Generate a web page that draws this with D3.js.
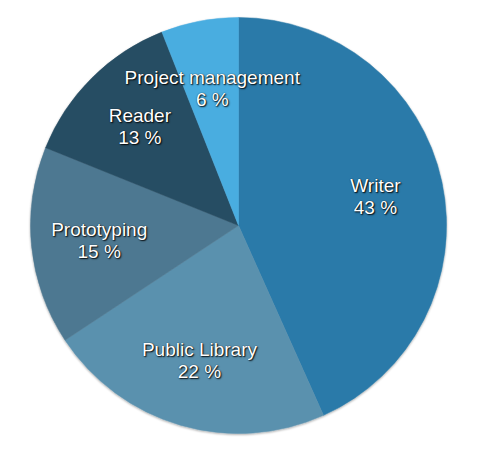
<!DOCTYPE html>
<html>
<head>
<meta charset="utf-8">
<script src="https://cdn.jsdelivr.net/npm/d3@7"></script>
<style>
  html, body { margin: 0; padding: 0; background: #fff; }
  svg { display: block; }
  .lbl { font-family: Helvetica, "Liberation Sans", Arial, sans-serif; font-size: 19px; fill: #fff;
         text-shadow: 1px 1px 1.5px rgba(0,0,0,0.95), 0 0 1px rgba(0,0,0,0.8); }
</style>
</head>
<body>
<script>
const categories = ["Writer", "Public Library", "Prototyping", "Reader", "Project management"];
const values = [43.3, 22.4, 15.4, 12.9, 6.0];
const colors = ["#2a7aa9", "#5a91ae", "#4e7891", "#274d63", "#4aade0"];

const W = 478, H = 452;
const cx = 238.5, cy = 225.5, R = 208, labelR = 140;

const svg = d3.select("body").append("svg").attr("width", W).attr("height", H);

const defs = svg.append("defs");
const f = defs.append("filter").attr("id", "sh").attr("x", "-10%").attr("y", "-10%").attr("width", "120%").attr("height", "120%");
f.append("feDropShadow").attr("dx", 0).attr("dy", 1).attr("stdDeviation", 1.2).attr("flood-color", "#000").attr("flood-opacity", 0.35);

const data = categories.map((c, i) => ({ name: c, value: values[i], color: colors[i] }));
const pie = d3.pie().value(d => d.value).sort(null);
const arcs = pie(data);
const arc = d3.arc().innerRadius(0).outerRadius(R);
const labelArc = d3.arc().innerRadius(labelR).outerRadius(labelR);

const g = svg.append("g").attr("transform", `translate(${cx},${cy})`);
g.append("g").attr("filter", "url(#sh)")
  .selectAll("path").data(arcs).join("path")
  .attr("d", arc)
  .attr("fill", d => d.data.color)
  .attr("stroke", d => d.data.color)
  .attr("stroke-width", 0.5);

const lbl = g.selectAll("text").data(arcs).join("text")
  .attr("class", "lbl")
  .attr("text-anchor", "middle")
  .attr("transform", d => { const [x, y] = labelArc.centroid(d); return `translate(${x},${y})`; });
lbl.append("tspan").attr("x", 0).attr("y", -4).text(d => d.data.name);
lbl.append("tspan").attr("x", 0).attr("y", 18).text(d => Math.round(d.data.value) + " %");
</script>
</body>
</html>
